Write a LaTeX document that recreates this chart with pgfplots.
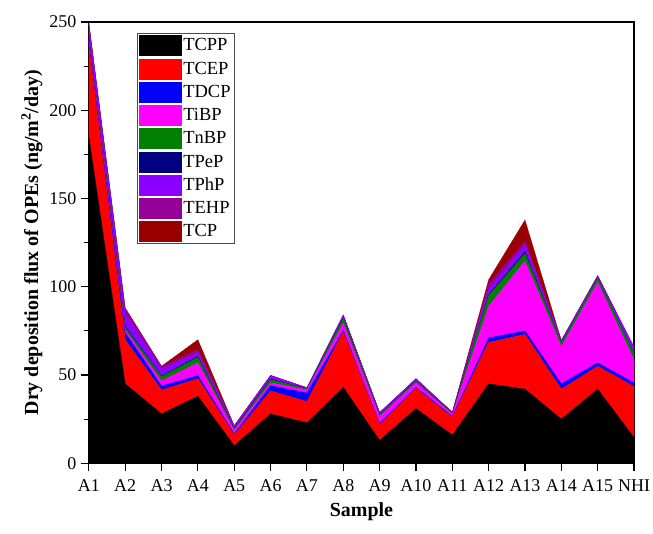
\documentclass[border=0pt]{standalone}
\usepackage{pgfplots}
\usepackage{pgfplotstable}
\pgfplotsset{compat=1.18}
\usepackage{fontspec}
\setmainfont{Liberation Serif}
\definecolor{cTCPP}{RGB}{0,0,0}
\definecolor{cTCEP}{RGB}{255,0,0}
\definecolor{cTDCP}{RGB}{0,0,255}
\definecolor{cTiBP}{RGB}{255,0,255}
\definecolor{cTnBP}{RGB}{0,128,0}
\definecolor{cTPeP}{RGB}{0,0,128}
\definecolor{cTPhP}{RGB}{140,0,255}
\definecolor{cTEHP}{RGB}{150,0,150}
\definecolor{cTCP}{RGB}{153,0,0}
\pgfplotstableread{
x TCPP TCEP TDCP TiBP TnBP TPeP TPhP TEHP TCP
0  185  52   1   1    1   0.5 7.5 1   0.5
1  45   25   4   1.5  1.5 0.5 7   3   0.5
2  28   13.5 2.3 2.8  2.5 0.3 4   1.3 0.3
3  38   10   1.7 7.3  3   0.5 2.2 1.7 5.6
4  10   6    0.7 2    0.7 0.2 1.2 0.5 0
5  28   13   3   1.6  1.8 0.3 1.8 0.3 0
6  23   12   4.8 1.8  0.5 0.1 0.5 0.1 0
7  43   31.5 0.8 4    2.7 0.3 1.5 0.2 0
8  13   9    0.5 4    0.8 0.1 1.2 0.1 0
9  31   11.4 0.6 2.6  0.8 0.1 1.3 0.1 0
10 16   10   0.6 1.2  0.4 0.1 0.5 0.1 0
11 45   23.5 2.5 18   6   0.5 3   3   2.5
12 42   31   2   39.5 4.3 1   4   2   12
13 25   17   3   21   2   0.1 1.3 0.2 0
14 42   13   2   45.5 2.3 0.1 1.2 0.2 0
15 14.5 29   2   13   3.5 0.1 3.3 0.3 0
}\datatable
\begin{document}
\begin{tikzpicture}
\begin{axis}[
  scale only axis,
  width=546bp, height=442bp,
  xmin=0, xmax=15, ymin=0, ymax=250,
  stack plots=y,
  xtick={0,...,15},
  xticklabels={A1,A2,A3,A4,A5,A6,A7,A8,A9,A10,A11,A12,A13,A14,A15,NHI},
  ytick={0,50,100,150,200,250},
  minor y tick num=1,
  tick pos=left,
  tick align=outside,
  major tick length=8bp,
  minor tick length=5bp,
  every tick/.style={black, line width=1.1pt},
  axis line style={line width=1.1pt},
  /pgf/number format/assume math mode=true,
  tick label style={font=\fontsize{18bp}{20bp}\selectfont},
  xticklabel style={inner xsep=0pt, yshift=-5bp},
  yticklabel style={xshift=-1bp},
  xlabel={\textbf{Sample}},
  ylabel={\textbf{Dry deposition flux of OPEs (ng/m\textsuperscript{2}/day)}},
  label style={font=\fontsize{20bp}{22bp}\selectfont},
  xlabel style={yshift=-4bp},
  ylabel style={yshift=0bp},
  legend style={at={(0.088,0.975)}, anchor=north west, draw=black!70, line width=0.6pt,
    font=\fontsize{18.5bp}{20bp}\selectfont, row sep=3bp, inner xsep=2bp, inner ysep=2bp},
  legend cell align=left,
  legend image code/.code={\fill[#1] (0bp,-10bp) rectangle (42bp,10bp);},
]
\addplot[fill=cTCPP, draw=cTCPP, line width=0.3pt] table[x=x,y=TCPP]{\datatable} \closedcycle;
\addplot[fill=cTCEP, draw=cTCEP, line width=0.3pt] table[x=x,y=TCEP]{\datatable} \closedcycle;
\addplot[fill=cTDCP, draw=cTDCP, line width=0.3pt] table[x=x,y=TDCP]{\datatable} \closedcycle;
\addplot[fill=cTiBP, draw=cTiBP, line width=0.3pt] table[x=x,y=TiBP]{\datatable} \closedcycle;
\addplot[fill=cTnBP, draw=cTnBP, line width=0.3pt] table[x=x,y=TnBP]{\datatable} \closedcycle;
\addplot[fill=cTPeP, draw=cTPeP, line width=0.3pt] table[x=x,y=TPeP]{\datatable} \closedcycle;
\addplot[fill=cTPhP, draw=cTPhP, line width=0.3pt] table[x=x,y=TPhP]{\datatable} \closedcycle;
\addplot[fill=cTEHP, draw=cTEHP, line width=0.3pt] table[x=x,y=TEHP]{\datatable} \closedcycle;
\addplot[fill=cTCP, draw=cTCP, line width=0.3pt] table[x=x,y=TCP]{\datatable} \closedcycle;
\legend{TCPP,TCEP,TDCP,TiBP,TnBP,TPeP,TPhP,TEHP,TCP}
\end{axis}
\path[use as bounding box] ([shift={(-89bp,-70bp)}]current axis.south west) rectangle ([shift={(19bp,22bp)}]current axis.north east);
\end{tikzpicture}
\end{document}
